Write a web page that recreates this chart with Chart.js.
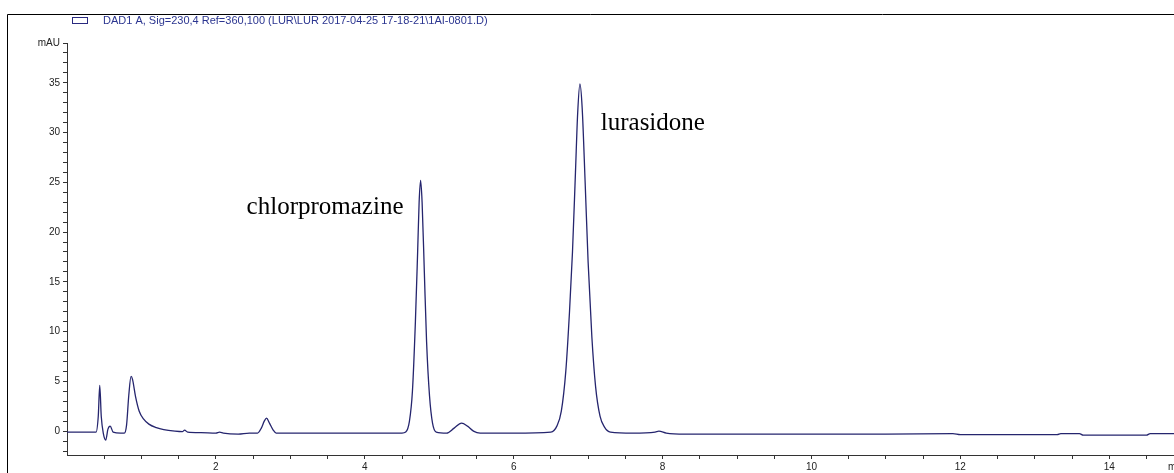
<!DOCTYPE html>
<html>
<head>
<meta charset="utf-8">
<script src="https://cdn.jsdelivr.net/npm/chart.js@4.4.0/dist/chart.umd.min.js"></script>
<style>
  html, body { margin: 0; padding: 0; background: #fff; overflow: hidden; }
  #wrap { position: relative; width: 1174px; height: 473px; }
</style>
</head>
<body>
<div id="wrap"><canvas id="chromChart" width="1174" height="473"></canvas></div>
<script>
// retention time (min) and signal (mAU)
const times = [
    0.0, 0.3, 0.39, 0.42, 0.44, 0.46, 0.49, 0.52, 0.55, 0.58, 0.62, 0.72, 0.77,
    0.8, 0.83, 0.86, 0.88, 0.92, 0.97, 1.03, 1.1, 1.2, 1.3, 1.45, 1.55, 1.58, 1.62,
    1.8, 2.0, 2.05, 2.1, 2.3, 2.45, 2.56, 2.61, 2.65, 2.68, 2.72, 2.77, 2.81,
    3.5, 4.0, 4.5, 4.55, 4.6, 4.64, 4.68, 4.71, 4.73, 4.75, 4.77, 4.8, 4.83, 4.87, 4.91, 4.96,
    5.1, 5.2, 5.3, 5.38, 5.46, 5.55, 6.0, 6.5,
    6.58, 6.64, 6.7, 6.75, 6.79, 6.83, 6.86, 6.89, 6.92, 6.96, 7.0, 7.05, 7.1, 7.16, 7.22, 7.3,
    7.6, 7.9, 7.95, 8.05, 8.3, 9.0, 10.0, 11.0, 11.9, 12.0, 13.3, 13.35, 13.6, 13.65, 14.5, 14.55, 14.87
];
const signal = [
    -0.1, -0.1, -0.1, 1.5, 4.6, 1.5, -0.3, -0.9, 0.2, 0.5, -0.1, -0.2, -0.2,
    0.6, 3.6, 5.5, 5.2, 3.5, 2.0, 1.2, 0.7, 0.35, 0.15, 0.0, -0.05, 0.1, -0.1,
    -0.15, -0.2, -0.1, -0.2, -0.3, -0.2, -0.2, 0.3, 1.0, 1.3, 0.8, 0.1, -0.2,
    -0.2, -0.2, -0.2, -0.1, 1.0, 4.0, 11.0, 18.0, 23.0, 25.2, 23.0, 16.0, 9.0, 3.5, 0.8, -0.1,
    -0.2, 0.3, 0.8, 0.5, 0.0, -0.2, -0.2, -0.1,
    0.5, 2.0, 6.0, 12.0, 18.0, 26.0, 32.0, 34.9, 32.5, 25.0, 17.0, 9.5, 4.5, 1.5, 0.4, -0.1,
    -0.2, -0.1, 0.0, -0.2, -0.3, -0.3, -0.3, -0.3, -0.25, -0.35, -0.35, -0.25, -0.25, -0.4, -0.4, -0.25, -0.25
];
const peakNames = ['chlorpromazine', 'lurasidone'];
const peakLabelAt = [[4.52, 21.8], [7.17, 30.3]];
const legendText = 'DAD1 A, Sig=230,4 Ref=360,100 (LUR\\LUR 2017-04-25 17-18-21\\1AI-0801.D)';

const lineColor = '#25256e';
const ctx = document.getElementById('chromChart').getContext('2d');

const points = times.map((t, i) => ({ x: t, y: signal[i] }));

const decorations = {
    id: 'decorations',
    afterDraw(chart) {
        const c = chart.ctx;
        const xs = chart.scales.x;
        const ys = chart.scales.y;
        c.save();
        // outer frame
        c.strokeStyle = '#000';
        c.lineWidth = 1;
        c.beginPath();
        c.moveTo(7.5, 473);
        c.lineTo(7.5, 14.5);
        c.lineTo(1174, 14.5);
        c.stroke();
        // legend
        c.strokeStyle = '#2a2a80';
        c.strokeRect(72.5, 17.5, 15, 6);
        c.fillStyle = '#2b3590';
        c.font = '11px "Liberation Sans", Arial, sans-serif';
        c.textBaseline = 'middle';
        c.textAlign = 'left';
        c.fillText(legendText, 103, 21);
        // peak names
        c.fillStyle = '#000';
        c.font = '25px "Liberation Serif", "Times New Roman", serif';
        c.textBaseline = 'alphabetic';
        c.textAlign = 'right';
        c.fillText(peakNames[0], xs.getPixelForValue(peakLabelAt[0][0]), ys.getPixelForValue(peakLabelAt[0][1]));
        c.textAlign = 'left';
        c.fillText(peakNames[1], xs.getPixelForValue(peakLabelAt[1][0]), ys.getPixelForValue(peakLabelAt[1][1]));
        // x unit
        c.font = '10px "Liberation Sans", Arial, sans-serif';
        c.fillStyle = '#222';
        c.textBaseline = 'middle';
        c.fillText('min', 1168, 467);
        c.restore();
    }
};

const chromChart = new Chart(ctx, {
    type: 'line',
    data: {
        datasets: [{
            data: points,
            borderColor: lineColor,
            borderWidth: 1.3,
            pointRadius: 0,
            fill: false,
            cubicInterpolationMode: 'monotone'
        }]
    },
    options: {
        responsive: false,
        animation: false,
        layout: { padding: { top: 43, right: 0, bottom: 0, left: 0 } },
        plugins: { legend: { display: false }, tooltip: { enabled: false } },
        scales: {
            x: {
                type: 'linear',
                min: 0,
                max: 14.87,
                afterBuildTicks(scale) {
                    const t = [];
                    for (let v = 0.5; v <= 14.5; v += 0.5) t.push({ value: v });
                    scale.ticks = t;
                },
                afterFit(scale) { scale.height = 18; },
                grid: { drawOnChartArea: false, tickLength: 4, color: '#333' },
                border: { color: '#333' },
                ticks: {
                    autoSkip: false,
                    maxRotation: 0,
                    padding: 2,
                    color: '#222',
                    font: { family: '"Liberation Sans", Arial, sans-serif', size: 10 },
                    callback: v => (v % 2 === 0 ? v : '')
                }
            },
            y: {
                min: -2.4,
                max: 39,
                afterBuildTicks(scale) {
                    const t = [];
                    for (let v = -2; v <= 39; v++) t.push({ value: v });
                    scale.ticks = t;
                },
                afterFit(scale) { scale.width = 67; },
                grid: { drawOnChartArea: false, tickLength: 4, color: '#333' },
                border: { color: '#333' },
                ticks: {
                    autoSkip: false,
                    padding: 3,
                    color: '#222',
                    font: { family: '"Liberation Sans", Arial, sans-serif', size: 10 },
                    callback: v => (v === 39 ? 'mAU' : (v % 5 === 0 ? v : ''))
                }
            }
        }
    },
    plugins: [decorations]
});
</script>
</body>
</html>
